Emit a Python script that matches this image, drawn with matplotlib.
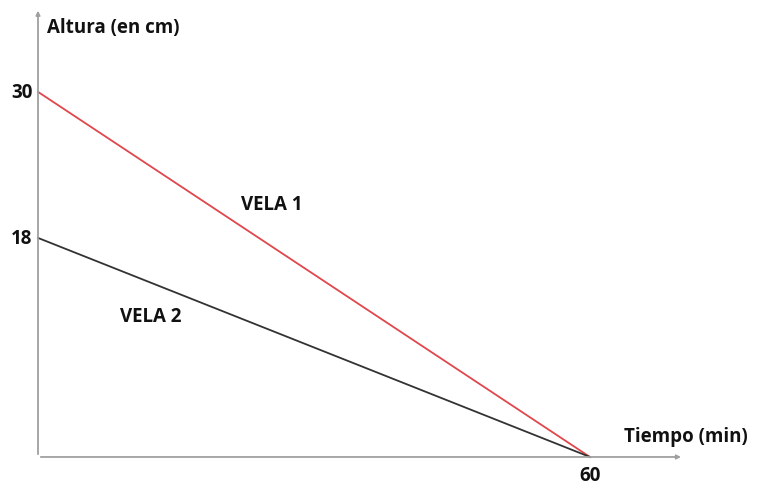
import matplotlib
matplotlib.use("Agg")
from matplotlib import pyplot as plt

# Data for the two candles
tiempo = [0, 60]
vela1 = [30, 0]
vela2 = [18, 0]
y_ticks = [30, 18]
x_ticks = [60]

fig = plt.figure(figsize=(7.62, 4.85), dpi=100)
ax = fig.add_axes([0, 0, 1, 1])
ax.set_xlim(-4.13, 78.7)
ax.set_ylim(-2.22, 37.63)
ax.axis("off")

font = dict(family="Open Sans", fontweight="bold", fontsize=13.5, color="#111111")

# Axes drawn as arrows
ax.annotate("", xy=(70.2, 0), xytext=(0, 0),
            arrowprops=dict(arrowstyle="-|>", color="#a0a0a0", lw=1.3, mutation_scale=6))
ax.annotate("", xy=(0, 36.9), xytext=(0, 0),
            arrowprops=dict(arrowstyle="-|>", color="#a0a0a0", lw=1.3, mutation_scale=6))

# Lines
ax.plot(tiempo, vela1, color="#e0474c", lw=1.3)
ax.plot(tiempo, vela2, color="#333333", lw=1.3)

# Tick labels
for v in y_ticks:
    ax.text(-0.6, v, str(v), ha="right", va="center", **font)
for v in x_ticks:
    ax.text(v, -1.5, str(v), ha="center", va="center", **font)

# Labels
ax.text(1.0, 35.3, "Altura (en cm)", ha="left", va="center", **font)
ax.text(77.2, 1.7, "Tiempo (min)", ha="right", va="center", **font)
ax.text(22.1, 20.8, "VELA 1", ha="left", va="center", **font)
ax.text(8.9, 11.6, "VELA 2", ha="left", va="center", **font)

fig.savefig("out.png", dpi=100)
